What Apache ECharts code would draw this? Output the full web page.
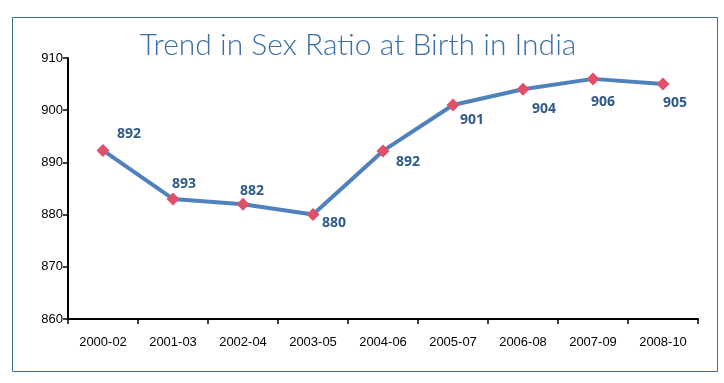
<!DOCTYPE html>
<html>
<head>
<meta charset="utf-8">
<script src="https://cdn.jsdelivr.net/npm/echarts@6/dist/echarts.min.js"></script>
<style>
html,body{margin:0;padding:0;background:#fff;}
#chart{width:724px;height:383px;}
</style>
</head>
<body>
<div id="chart"></div>
<script>
const titleText = "Trend in Sex Ratio at Birth in India";
const categories = ["2000-02","2001-03","2002-04","2003-05","2004-06","2005-07","2006-08","2007-09","2008-10"];
const ratioValues = [892.3, 883, 882, 880, 892.2, 901, 904, 906, 905];
const labelTexts = ["892","893","882","880","892","901","904","906","905"];
const yTicks = [860, 870, 880, 890, 900, 910];

// label offsets (style only)
const labelOffsets = [[26,-16],[11,-15],[9,-13],[21,8],[25,11],[19,15],[21,20],[10,23],[12,19]];

const chart = echarts.init(document.getElementById('chart'));
const seriesData = ratioValues.map((v, i) => ({
  value: v,
  label: { formatter: labelTexts[i], offset: labelOffsets[i] }
}));

chart.setOption({
  animation: false,
  backgroundColor: '#ffffff',
  title: {
    text: titleText,
    left: 353, top: 25, textAlign: 'center',
    textStyle: { fontFamily: 'Lato', fontWeight: 300, fontSize: 30, color: '#3d6ea3' }
  },
  graphic: [{
    type: 'rect',
    shape: { x: 12.5, y: 17.5, width: 705, height: 354 },
    style: { fill: 'none', stroke: '#3d6ea3', lineWidth: 1 }
  }],
  grid: { left: 68, right: 26, top: 58, bottom: 64 },
  xAxis: {
    type: 'category',
    data: categories,
    boundaryGap: true,
    axisLine: { lineStyle: { color: '#000', width: 2 } },
    axisTick: { show: true, length: 5, lineStyle: { color: '#000', width: 1.5 } },
    axisLabel: { color: '#000', fontFamily: 'Liberation Sans', fontSize: 13, margin: 17 }
  },
  yAxis: {
    type: 'value',
    min: yTicks[0], max: yTicks[yTicks.length - 1], interval: 10,
    axisLine: { show: true, lineStyle: { color: '#000', width: 2 } },
    axisTick: { show: true, length: 5, lineStyle: { color: '#000', width: 1.5 } },
    splitLine: { show: false },
    axisLabel: { color: '#000', fontFamily: 'Liberation Sans', fontSize: 13, margin: 5 }
  },
  series: [{
    type: 'line',
    data: seriesData,
    lineStyle: { color: '#4f81bd', width: 4 },
    itemStyle: { color: '#e0506a' },
    symbol: 'diamond',
    symbolSize: 13,
    label: {
      show: true, position: 'inside',
      color: '#2f5a8c', fontFamily: 'Open Sans', fontWeight: 'bold', fontSize: 14
    },
    z: 3
  }]
});
</script>
</body>
</html>
